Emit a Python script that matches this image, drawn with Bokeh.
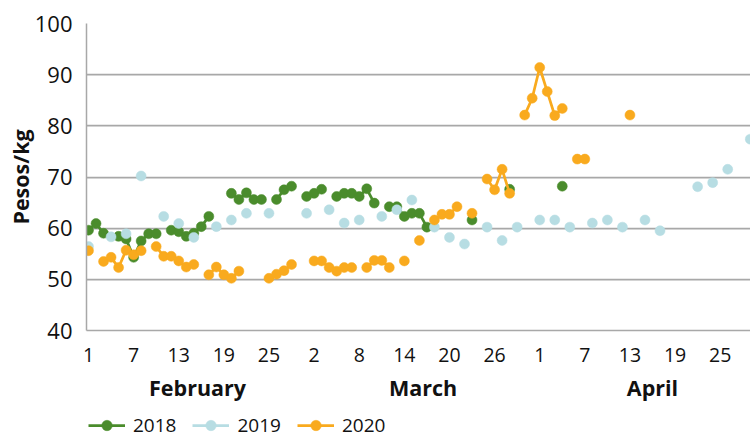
import math
from datetime import date, timedelta
from bokeh.plotting import figure
from bokeh.layouts import column
from bokeh.models import Range1d, FixedTicker, LinearAxis, Legend, LegendItem, ColumnDataSource
from bokeh.embed import file_html
from bokeh.resources import INLINE

# ---------------- data ----------------
start_date = date(2020, 2, 1)          # day index 0 = 1 February
months = ["February", "March", "April"]
month_days = [29, 31, 30]
tick_days = list(range(0, 85, 6))      # a label every 6 days
y_ticks = [40, 50, 60, 70, 80, 90, 100]
years = ["2018", "2019", "2020"]
colors = ["#4A8C2C", "#B7DDE3", "#F9AA1E"]

days_2018 = [0, 1, 2, 4, 5, 6, 7, 8, 9, 11, 12, 13, 14, 15, 16, 19, 20, 21, 22, 23,
             25, 26, 27, 29, 30, 31, 33, 34, 35, 36, 37, 38, 40, 41, 42, 43, 44, 45,
             51, 56, 63]
vals_2018 = [59.6, 60.9, 59.0, 58.4, 57.9, 54.3, 57.5, 58.9, 58.9, 59.6, 59.3, 58.4, 59.0,
             60.3, 62.3, 66.8, 65.6, 66.9, 65.6, 65.6, 65.6, 67.5, 68.2, 66.2, 66.8, 67.6,
             66.2, 66.8, 66.8, 66.2, 67.7, 64.9, 64.2, 64.2, 62.3, 62.9, 62.9, 60.2,
             61.6, 67.6, 68.2]

days_2019 = [0, 3, 5, 7, 10, 12, 14, 17, 19, 21, 24, 29, 32, 34, 36, 39, 41, 43, 46, 48,
             50, 53, 55, 57, 60, 62, 64, 67, 69, 71, 74, 76, 81, 83, 85, 88]
vals_2019 = [56.4, 58.3, 58.9, 70.2, 62.3, 60.9, 58.2, 60.3, 61.6, 62.9, 62.9, 62.9, 63.6,
             61.0, 61.6, 62.3, 63.6, 65.5, 60.2, 58.2, 56.9, 60.2, 57.6, 60.2, 61.6, 61.6,
             60.2, 61.0, 61.6, 60.2, 61.6, 59.5, 68.1, 68.9, 71.5, 77.4]

days_2020 = [0, 2, 3, 4, 5, 6, 7, 9, 10, 11, 12, 13, 14, 16, 17, 18, 19, 20, 24, 25, 26, 27,
             30, 31, 32, 33, 34, 35, 37, 38, 39, 40, 42, 44, 46, 47, 48, 49, 51,
             53, 54, 55, 56, 58, 59, 60, 61, 62, 63, 65, 66, 72]
vals_2020 = [55.6, 53.5, 54.3, 52.3, 55.7, 54.8, 55.6, 56.4, 54.5, 54.5, 53.6, 52.4, 52.9,
             50.9, 52.4, 50.9, 50.2, 51.6, 50.2, 51.0, 51.7, 52.9,
             53.6, 53.6, 52.3, 51.6, 52.3, 52.3, 52.3, 53.7, 53.7, 52.3, 53.6, 57.6,
             61.6, 62.7, 62.7, 64.2, 62.9, 69.6, 67.5, 71.5, 66.8,
             82.1, 85.4, 91.4, 86.7, 82.0, 83.4, 73.5, 73.5, 82.1]

series = [(days_2018, vals_2018), (days_2019, vals_2019), (days_2020, vals_2020)]
n_days = sum(month_days)

# ---------------- figure ----------------
FONT = "Open Sans"
GRID = "#A8A8A8"
TXT = "#111111"

x_range = Range1d(-0.266, 88.03)
p = figure(width=750, height=404, output_backend="svg", toolbar_location=None,
           x_range=x_range, y_range=Range1d(40, 100),
           min_border_left=86, min_border_right=0, min_border_top=23, min_border_bottom=73)
p.outline_line_color = None
p.background_fill_color = "white"
p.border_fill_color = "white"

# legend strip below the chart (shares the data sources; its y range shows no data)
q = figure(width=750, height=34, output_backend="svg", toolbar_location=None,
           x_range=x_range, y_range=Range1d(0, 1), x_axis_type=None, y_axis_type=None,
           min_border_left=0, min_border_right=0, min_border_top=0, min_border_bottom=0)
q.outline_line_color = None
q.grid.visible = False

legend_items = []
for (days, vals), col, yr in zip(series, colors, years):
    full = [float("nan")] * n_days
    for d, v in zip(days, vals):
        full[d] = v
    line_src = ColumnDataSource(dict(x=list(range(n_days)), y=full))
    pt_src = ColumnDataSource(dict(x=days, y=vals))
    for fig in (p, q):
        lr = fig.line("x", "y", source=line_src, line_color=col, line_width=2.75)
        sr = fig.scatter("x", "y", source=pt_src, marker="circle", size=10,
                         fill_color=col, line_color=col, line_width=0.5)
    legend_items.append(LegendItem(label=yr, renderers=[lr, sr]))

# x axis: day numbers
xa = p.xaxis[0]
xa.ticker = FixedTicker(ticks=tick_days)
xa.major_label_overrides = {d: str((start_date + timedelta(days=d)).day) for d in tick_days}
xa.major_tick_line_color = None
xa.major_tick_out = 0
xa.major_tick_in = 0
xa.minor_tick_line_color = None
xa.axis_line_color = GRID
xa.axis_line_width = 1.5
xa.major_label_text_font = FONT
xa.major_label_text_font_size = "19.5px"
xa.major_label_text_color = TXT
xa.major_label_standoff = 17

# month axis
centers = []
acc = 0
for n in month_days:
    centers.append(acc + n / 2)
    acc += n
ma = LinearAxis(ticker=FixedTicker(ticks=centers),
                major_label_overrides={c: m for c, m in zip(centers, months)})
ma.axis_line_color = None
ma.major_tick_line_color = None
ma.major_tick_out = 0
ma.major_tick_in = 0
ma.minor_tick_line_color = None
ma.major_label_text_font = FONT
ma.major_label_text_font_size = "21.5px"
ma.major_label_text_font_style = "bold"
ma.major_label_text_color = TXT
ma.major_label_standoff = 8
p.add_layout(ma, "below")

# y axis
ya = p.yaxis[0]
ya.ticker = FixedTicker(ticks=y_ticks)
ya.major_tick_line_color = None
ya.major_tick_out = 0
ya.major_tick_in = 0
ya.minor_tick_line_color = None
ya.axis_line_color = GRID
ya.axis_line_width = 1.5
ya.major_label_text_font = FONT
ya.major_label_text_font_size = "22px"
ya.major_label_text_color = TXT
ya.major_label_standoff = 14
ya.axis_label = "Pesos/kg"
ya.axis_label_text_font = FONT
ya.axis_label_text_font_size = "21.5px"
ya.axis_label_text_font_style = "bold"
ya.axis_label_text_color = TXT
ya.axis_label_standoff = -3

p.xgrid.visible = False
p.ygrid.ticker = FixedTicker(ticks=y_ticks)
p.ygrid.grid_line_color = GRID
p.ygrid.grid_line_width = 1.75

legend = Legend(items=legend_items, orientation="horizontal", location=(2, 0),
                glyph_width=37, glyph_height=26, label_height=26, label_standoff=8, spacing=16,
                padding=0, margin=0, border_line_color=None, background_fill_alpha=0,
                label_text_font=FONT, label_text_font_size="19px", label_text_color=TXT)
q.add_layout(legend)

layout = column(p, q, spacing=0)
open("out.html", "w").write(file_html(layout, INLINE))
